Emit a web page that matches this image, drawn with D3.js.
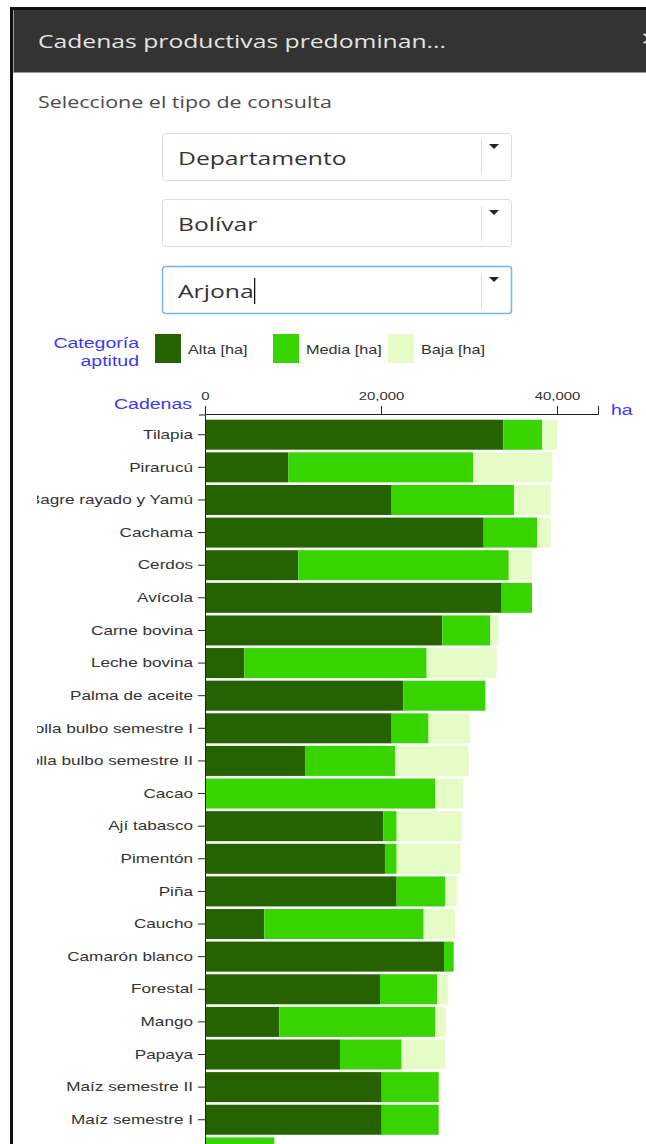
<!DOCTYPE html>
<html lang="es">
<head>
<meta charset="utf-8">
<script src="https://cdn.jsdelivr.net/npm/d3@7"></script>
<style>
  html, body { margin: 0; padding: 0; background: #fff; overflow: hidden; }
  svg { display: block; }
</style>
</head>
<body>
<svg id="panel" width="646" height="1144"></svg>
<script>
// Cadenas productivas predominantes – Arjona (Bolívar), hectáreas por categoría de aptitud
const categories = [
  "Tilapia", "Pirarucú", "Bagre rayado y Yamú", "Cachama", "Cerdos", "Avícola",
  "Carne bovina", "Leche bovina", "Palma de aceite", "Cebolla bulbo semestre I",
  "Cebolla bulbo semestre II", "Cacao", "Ají tabasco", "Pimentón", "Piña", "Caucho",
  "Camarón blanco", "Forestal", "Mango", "Papaya", "Maíz semestre II", "Maíz semestre I",
  "Yuca"
];
const alta  = [33900,  9470, 21210, 31670, 10610, 33710, 26970,  4470, 22540, 21210, 11360,     0, 20260, 20450, 21780,  6740, 27160, 19890,  8440, 15340, 20080, 20080,    0];
const media = [ 4430, 21020, 13900,  6090, 23910,  3450,  5450, 20720,  9320,  4200, 10230, 26170,  1520,  1330,  5520, 18110,  1100,  6510, 17730,  7010,  6480,  6480, 7880];
const baja  = [ 1700,  8980,  4170,  1520,  2650,     0,   910,  7950,     0,  4700,  8370,  3180,  7420,  7230,  1300,  3590,     0,  1250,  1140,  4950,     0,     0,    0];

const seriesKeys   = ["alta", "media", "baja"];
const seriesLabels = ["Alta [ha]", "Media [ha]", "Baja [ha]"];
const seriesColors = ["#266200", "#38d400", "#e6fcc6"];
const xTicks = [0, 20000, 40000];
const axisMax = 44660;

const selectors = ["Departamento", "Bolívar", "Arjona"];

// The widget is rendered horizontally widened; every text run gets the same stretch.
const SX = 1.3;
const uiFont = "'Open Sans', 'DejaVu Sans', sans-serif";
const chartFont = "'Liberation Sans', Arial, sans-serif";

const svg = d3.select("#panel");

// ---------- panel frame and title bar ----------
svg.append("rect").attr("x", 0).attr("y", 0).attr("width", 646).attr("height", 1144).attr("fill", "#fff");
svg.append("rect").attr("x", 13).attr("y", 10).attr("width", 633).attr("height", 62).attr("fill", "#333");
svg.append("rect").attr("x", 13).attr("y", 72).attr("width", 633).attr("height", 1).attr("fill", "#9a9a9a");
svg.append("rect").attr("x", 10).attr("y", 7).attr("width", 636).attr("height", 3).attr("fill", "#111");
svg.append("rect").attr("x", 10).attr("y", 7).attr("width", 3).attr("height", 1137).attr("fill", "#111");
svg.append("rect").attr("x", 13).attr("y", 10).attr("width", 1).attr("height", 63).attr("fill", "#6cbf5a");

function stretched(parent, str, x, y, opts) {
  const t = parent.append("text")
    .attr("transform", `translate(${x},${y}) scale(${SX},1)`)
    .attr("font-family", opts.font || chartFont)
    .attr("font-size", opts.size)
    .attr("fill", opts.fill || "#333")
    .attr("text-anchor", opts.anchor || "start")
    .text(str);
  return t;
}

stretched(svg, "Cadenas productivas predominan...", 38, 48, { font: uiFont, size: 19, fill: "#e4e4e4" });
stretched(svg, "×", 641, 47, { font: uiFont, size: 24, fill: "#dddddd" });

stretched(svg, "Seleccione el tipo de consulta", 38, 108, { font: uiFont, size: 16.5, fill: "#4a4a4a" });

// ---------- selector boxes ----------
const boxTops = [133, 199, 266];
selectors.forEach((label, i) => {
  const g = svg.append("g").attr("transform", `translate(162,${boxTops[i]})`);
  const active = i === selectors.length - 1;
  g.append("rect")
    .attr("x", 0.5).attr("y", 0.5).attr("width", 349).attr("height", 47).attr("rx", 3)
    .attr("fill", "#fff")
    .attr("stroke", active ? "#79b4e6" : "#dcdcdc")
    .attr("stroke-width", active ? 1.5 : 1);
  g.append("line").attr("x1", 319.5).attr("x2", 319.5).attr("y1", 7).attr("y2", 42)
    .attr("stroke", "#dedede");
  g.append("path").attr("d", "M327,11 L337,11 L332,16 Z").attr("fill", "#222");
  const t = stretched(g, label, 16, 32, { font: uiFont, size: 19, fill: "#333" });
  if (active) {
    const w = t.node().getComputedTextLength() * SX;
    g.append("line").attr("x1", 16 + w + 1).attr("x2", 16 + w + 1).attr("y1", 12).attr("y2", 38)
      .attr("stroke", "#111").attr("stroke-width", 1.3);
  }
});

// ---------- legend ----------
const blue = "#3b3bef";
stretched(svg, "Categoría", 139, 348, { size: 15, fill: blue, anchor: "end" });
stretched(svg, "aptitud", 139, 366, { size: 15, fill: blue, anchor: "end" });
const legendX = [155, 273, 388];
seriesLabels.forEach((lab, i) => {
  svg.append("rect").attr("x", legendX[i]).attr("y", 334).attr("width", 26).attr("height", 29)
    .attr("fill", seriesColors[i]);
  stretched(svg, lab, legendX[i] + 33, 354, { size: 12.5, fill: "#333" });
});

// ---------- chart ----------
const chart = svg.append("g");
svg.append("clipPath").attr("id", "chartClip")
  .append("rect").attr("x", 37).attr("y", 370).attr("width", 609).attr("height", 774);
// category names are only shown down to the panel's lower edge
svg.append("clipPath").attr("id", "labelClip")
  .append("rect").attr("x", 37).attr("y", 370).attr("width", 609).attr("height", 770);
chart.attr("clip-path", "url(#chartClip)");

const x = d3.scaleLinear().domain([0, axisMax]).range([205, 598]);
const y = d3.scaleBand().domain(categories).range([414.5, 414.5 + 32.62 * 23.24])
  .paddingInner(0.08).paddingOuter(0.16);

const rows = categories.map((c, i) => ({ cadena: c, alta: alta[i], media: media[i], baja: baja[i] }));
const stacked = d3.stack().keys(seriesKeys)(rows);

chart.append("g").selectAll("g")
  .data(stacked)
  .join("g")
    .attr("fill", (d, i) => seriesColors[i])
  .selectAll("rect")
  .data(d => d)
  .join("rect")
    .attr("x", d => x(d[0]))
    .attr("y", d => y(d.data.cadena))
    .attr("width", d => Math.max(0, x(d[1]) - x(d[0])))
    .attr("height", y.bandwidth());

// top value axis
const xAxis = chart.append("g")
  .attr("transform", "translate(0,414)")
  .call(d3.axisTop(x).tickValues(xTicks).tickFormat(d3.format(",")).tickSizeInner(8).tickSizeOuter(8).tickPadding(6));
xAxis.selectAll("path, line").attr("stroke", "#222");
xAxis.selectAll("text")
  .attr("font-family", chartFont).attr("font-size", 11.5).attr("fill", "#333")
  .attr("transform", function () { return `translate(0,${d3.select(this).attr("y")}) scale(${SX},1)`; })
  .attr("y", 0);

// category axis
const yAxis = chart.append("g")
  .attr("transform", "translate(205,0)")
  .call(d3.axisLeft(y).tickSizeInner(7).tickSizeOuter(6).tickPadding(5));
yAxis.selectAll("path, line").attr("stroke", "#222");
yAxis.selectAll("text")
  .attr("font-family", chartFont).attr("font-size", 13.2).attr("fill", "#333")
  .attr("transform", `translate(-12,0) scale(${SX},1)`)
  .attr("x", 0);
yAxis.selectAll(".tick")
  .filter(d => y(d) + y.bandwidth() / 2 > 1140)
  .select("text").attr("display", "none");

// axis titles
stretched(svg, "Cadenas", 192, 409, { size: 15, fill: blue, anchor: "end" });
stretched(svg, "ha", 611, 415, { size: 15, fill: blue });
</script>
</body>
</html>
